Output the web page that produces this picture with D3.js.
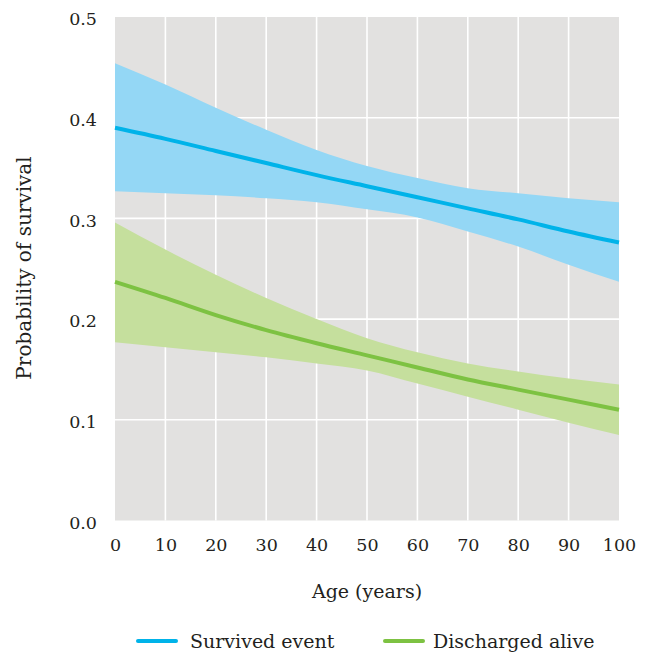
<!DOCTYPE html>
<html>
<head>
<meta charset="utf-8">
<script src="https://cdn.jsdelivr.net/npm/d3@7/dist/d3.min.js"></script>
<style>
  html, body { margin: 0; padding: 0; background: #fff; }
  svg text { font-family: "DejaVu Serif", "Liberation Serif", serif; fill: #231f20; }
</style>
</head>
<body>
<svg id="chart" width="651" height="657"></svg>
<script>
// Age points (years)
const ages = [0, 10, 20, 30, 40, 50, 60, 70, 80, 90, 100];

// Survived event: estimate and confidence band
const survivedFit   = [0.390, 0.379, 0.367, 0.355, 0.343, 0.332, 0.321, 0.310, 0.299, 0.287, 0.276];
const survivedUpper = [0.454, 0.433, 0.410, 0.388, 0.368, 0.352, 0.340, 0.330, 0.325, 0.320, 0.316];
const survivedLower = [0.327, 0.325, 0.323, 0.320, 0.316, 0.309, 0.301, 0.287, 0.272, 0.254, 0.237];

// Discharged alive: estimate and confidence band
const dischargedFit   = [0.237, 0.221, 0.204, 0.189, 0.176, 0.164, 0.152, 0.140, 0.130, 0.120, 0.110];
const dischargedUpper = [0.296, 0.269, 0.244, 0.221, 0.200, 0.181, 0.167, 0.156, 0.148, 0.141, 0.135];
const dischargedLower = [0.177, 0.172, 0.167, 0.162, 0.156, 0.149, 0.136, 0.123, 0.110, 0.097, 0.085];

const xTicks = [0, 10, 20, 30, 40, 50, 60, 70, 80, 90, 100];
const yTicks = [0.0, 0.1, 0.2, 0.3, 0.4, 0.5];

const seriesNames = ["Survived event", "Discharged alive"];
const lineColors = ["#00b3e9", "#7dc242"];
const bandColors = ["#94d7f5", "#c5df9d"];

const svg = d3.select("#chart");
const plot = { left: 115, right: 619, top: 17, bottom: 520.5 };

const x = d3.scaleLinear().domain([0, 100]).range([plot.left, plot.right]);
const y = d3.scaleLinear().domain([0, 0.5]).range([plot.bottom, plot.top]);

// Panel background
svg.append("rect")
  .attr("x", plot.left).attr("y", plot.top)
  .attr("width", plot.right - plot.left).attr("height", plot.bottom - plot.top)
  .attr("fill", "#e2e1e0");

// Grid lines
const grid = svg.append("g").attr("stroke", "#ffffff").attr("stroke-width", 1.6);
grid.selectAll("line.v").data(xTicks.slice(1, -1)).join("line")
  .attr("x1", d => x(d)).attr("x2", d => x(d))
  .attr("y1", plot.top).attr("y2", plot.bottom);
grid.selectAll("line.h").data(yTicks.slice(1, -1)).join("line")
  .attr("x1", plot.left).attr("x2", plot.right)
  .attr("y1", d => y(d)).attr("y2", d => y(d));

const curve = d3.curveMonotoneX;
const series = [
  { fit: survivedFit, upper: survivedUpper, lower: survivedLower },
  { fit: dischargedFit, upper: dischargedUpper, lower: dischargedLower }
];

const area = d3.area()
  .x((d, i) => x(ages[i]))
  .y0(d => y(d.lo))
  .y1(d => y(d.hi))
  .curve(curve);
const line = d3.line()
  .x((d, i) => x(ages[i]))
  .y(d => y(d))
  .curve(curve);

// Confidence bands
series.forEach((s, k) => {
  const band = ages.map((a, i) => ({ lo: s.lower[i], hi: s.upper[i] }));
  svg.append("path").attr("d", area(band)).attr("fill", bandColors[k]);
});
// Fitted lines
series.forEach((s, k) => {
  svg.append("path").attr("d", line(s.fit))
    .attr("fill", "none").attr("stroke", lineColors[k]).attr("stroke-width", 4);
});

// Axes
const xAxis = d3.axisBottom(x).tickValues(xTicks).tickSize(0).tickPadding(18).tickFormat(d3.format("d"));
svg.append("g").attr("transform", `translate(0,${plot.bottom})`).call(xAxis)
  .call(g => g.select(".domain").remove())
  .selectAll("text").style("font-size", "17.5px").attr("fill", "#231f20")
  .style("font-family", "'DejaVu Serif', serif");

const yAxis = d3.axisLeft(y).tickValues(yTicks).tickSize(0).tickPadding(18).tickFormat(d3.format(".1f"));
svg.append("g").attr("transform", `translate(${plot.left},0)`).call(yAxis)
  .call(g => g.select(".domain").remove())
  .selectAll("text").style("font-size", "17.5px").attr("fill", "#231f20")
  .attr("dy", "0.45em")
  .style("font-family", "'DejaVu Serif', serif");

// Axis titles
svg.append("text")
  .attr("x", 367).attr("y", 598)
  .attr("text-anchor", "middle").style("font-size", "19px")
  .text("Age (years)");
svg.append("text")
  .attr("transform", `translate(31,268) rotate(-90)`)
  .attr("text-anchor", "middle").style("font-size", "20px")
  .text("Probability of survival");

// Legend
const legendItems = [
  { lineX: 138, textX: 190 },
  { lineX: 385, textX: 433 }
];
legendItems.forEach((it, k) => {
  svg.append("line")
    .attr("x1", it.lineX).attr("x2", it.lineX + 38)
    .attr("y1", 641).attr("y2", 641)
    .attr("stroke", lineColors[k]).attr("stroke-width", 4).attr("stroke-linecap", "round");
  svg.append("text")
    .attr("x", it.textX).attr("y", 648)
    .style("font-size", "19px")
    .text(seriesNames[k]);
});
</script>
</body>
</html>
